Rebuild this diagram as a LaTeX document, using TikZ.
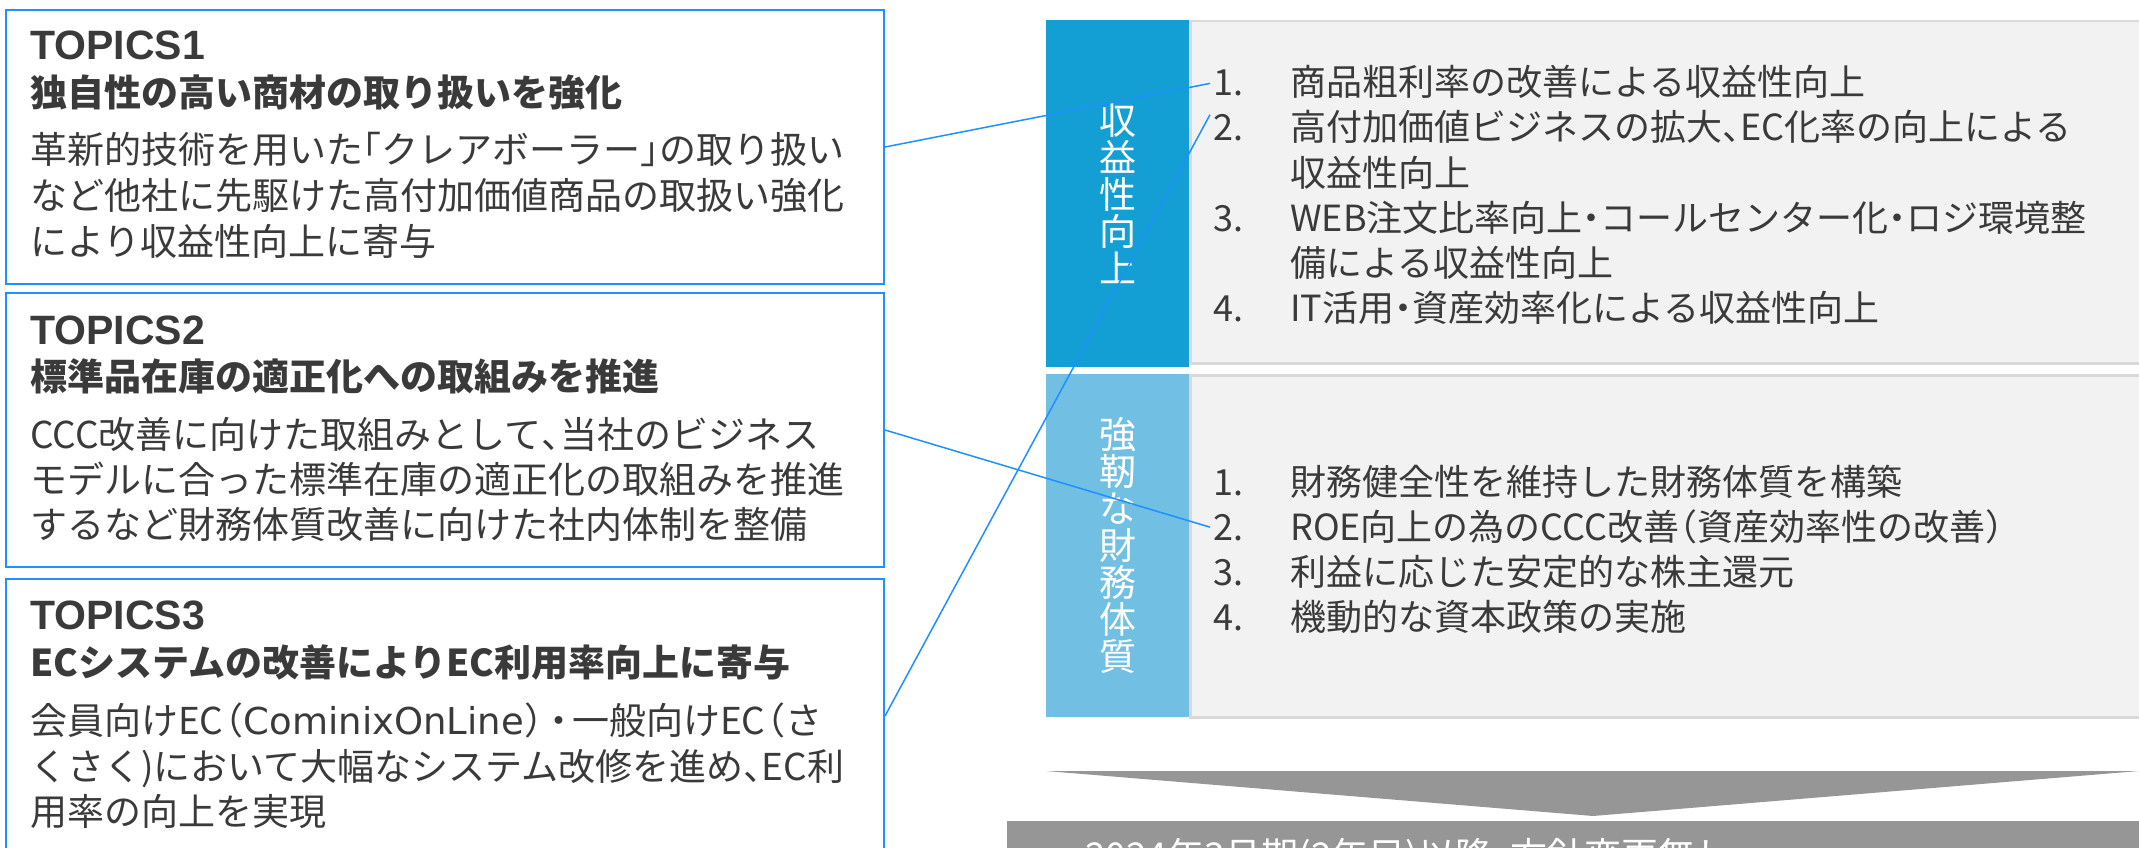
\documentclass[tikz,border=0pt]{standalone}
\usepackage{fontspec}
\setmainfont{Noto Sans CJK JP}
\newfontfamily\latf{Liberation Sans}
\newfontfamily\widef{DejaVu Sans}
\newfontfamily\symf{DejaVu Sans}
\definecolor{tblue}{HTML}{1E90FF}
\definecolor{dcol}{HTML}{139FD3}
\definecolor{lcol}{HTML}{71C0E4}
\definecolor{gfill}{HTML}{F2F2F2}
\definecolor{gline}{HTML}{D9D9D9}
\definecolor{txt}{HTML}{3A3A3A}
\definecolor{arrowg}{HTML}{969696}
\newcommand{\jlb}{\makebox[0.5em][r]{「}}
\newcommand{\jrb}{\makebox[0.5em][l]{」}}
\newcommand{\jten}{\makebox[0.5em][l]{、}}
\newcommand{\jdot}{\makebox[0.5em][c]{・}}
\newcommand{\jwdot}{\makebox[0.7em][c]{・}}
\newcommand{\jlp}{\makebox[0.5em][r]{（}}
\newcommand{\jrp}{\makebox[0.5em][l]{）}}
\newcommand{\jmlp}{\makebox[0.55em][r]{（}}
\newcommand{\jmrp}{\makebox[0.6em][l]{）}}
\tikzset{
  topbox/.style={draw=tblue, line width=2pt, fill=white, anchor=north west, inner sep=0pt, minimum width=878pt, minimum height=274pt},
  lbl/.style={anchor=base west, inner sep=0pt, text=txt, font=\latf\bfseries\fontsize{41}{41}\selectfont},
  hd/.style={anchor=base west, inner sep=0pt, text=txt, font=\bfseries\fontsize{37}{37}\selectfont},
  bd/.style={anchor=base west, inner sep=0pt, text=txt, font=\fontsize{37}{37}\selectfont},
  itm/.style={anchor=base west, inner sep=0pt, text=txt, font=\fontsize{36}{36}\selectfont},
  colbox/.style={anchor=north west, inner sep=0pt, minimum width=143pt, text=white, align=center, font=\fontsize{37}{37}\selectfont},
  gbox/.style={draw=gline, line width=2.5pt, fill=gfill, anchor=north west, inner sep=0pt, minimum width=970pt},
  conn/.style={draw=tblue, line width=1.5pt},
}
\begin{document}
\begin{tikzpicture}[x=1pt,y=-1pt]
\useasboundingbox (0,0) rectangle (2139,848);
\clip (0,0) rectangle (2139,848);
% left topic boxes
\node[topbox] (box1) at (5,9) {};
\node[topbox] (box2) at (5,292) {};
\node[topbox] (box3) at (5,578) {};
% box 1
\node[lbl] (t1) at (30,60) {TOPICS1};
\node[hd] (h1) at (30,106.5) {独自性の高い商材の取り扱いを強化};
\node[bd] (b11) at (30,164) {革新的技術を用いた\jlb クレアボーラー\jrb の取り扱い};
\node[bd] (b12) at (30,209.5) {など他社に先駆けた高付加価値商品の取扱い強化};
\node[bd] (b13) at (30,255) {により収益性向上に寄与};
% box 2
\node[lbl] (t2) at (30,344) {TOPICS2};
\node[hd] (h2) at (30,390) {標準品在庫の適正化への取組みを推進};
\node[bd] (b21) at (30,448) {CCC改善に向けた取組みとして\jten 当社のビジネス};
\node[bd] (b22) at (30,493) {モデルに合った標準在庫の適正化の取組みを推進};
\node[bd] (b23) at (30,538) {するなど財務体質改善に向けた社内体制を整備};
% box 3
\node[lbl] (t3) at (30,629) {TOPICS3};
\node[hd] (h3) at (30,676) {ECシステムの改善によりEC利用率向上に寄与};
\node[bd] (b31) at (30,734) {会員向けEC\jmlp{\widef CominixOnLine}\jmrp\jwdot 一般向けEC\jmlp さ};
\node[bd] (b32) at (30,780) {くさく)において大幅なシステム改修を進め\jten EC利};
\node[bd] (b33) at (30,825) {用率の向上を実現};
% right panel
\node[colbox, fill=dcol, minimum height=347pt] (col1) at (1046,20) {収\\益\\性\\向\\上};
\node[colbox, fill=lcol, minimum height=343pt] (col2) at (1046,374) {強\\靭\\な\\財\\務\\体\\質};
\node[gbox, minimum height=342pt] (g1) at (1189,20) {};
\node[gbox, minimum height=342pt] (g2) at (1189,374) {};
% list 1
\node[itm] (n11) at (1213,96) {1.};
\node[itm] (i11) at (1290,96) {商品粗利率の改善による収益性向上};
\node[itm] (n12) at (1213,141) {2.};
\node[itm] (i12) at (1290,141) {高付加価値ビジネスの拡大\jten EC化率の向上による};
\node[itm] (i12b) at (1290,186) {収益性向上};
\node[itm] (n13) at (1213,231) {3.};
\node[itm] (i13) at (1290,231) {WEB注文比率向上\jdot コールセンター化\jdot ロジ環境整};
\node[itm] (i13b) at (1290,276) {備による収益性向上};
\node[itm] (n14) at (1213,321) {4.};
\node[itm] (i14) at (1290,321) {IT活用\jdot 資産効率化による収益性向上};
% list 2
\node[itm] (n21) at (1213,495) {1.};
\node[itm] (i21) at (1290,495) {財務健全性を維持した財務体質を構築};
\node[itm] (n22) at (1213,540) {2.};
\node[itm] (i22) at (1290,540) {ROE向上の為のCCC改善\jlp 資産効率性の改善\jrp};
\node[itm] (n23) at (1213,585) {3.};
\node[itm] (i23) at (1290,585) {利益に応じた安定的な株主還元};
\node[itm] (n24) at (1213,630) {4.};
\node[itm] (i24) at (1290,630) {機動的な資本政策の実施};
% connectors
\draw[conn] (box1.east) -- ([xshift=-3pt]n11.west);
\draw[conn] (box3.east) -- ([xshift=-3pt]n12.north west);
\draw[conn] (box2.east) -- ([xshift=-3pt]n22.west);
% chevron
\coordinate (chl) at (1046,771);
\coordinate (chr) at (2139,771);
\coordinate (cht) at (1593,816);
\fill[arrowg] (chl) -- (chr) -- (cht) -- cycle;
% bottom bar
\node[fill=arrowg, anchor=north west, inner sep=0pt, minimum width=1140pt, minimum height=60pt] (bar) at (1007,821) {};
\node[anchor=base west, inner sep=0pt, text=white, font=\symf\fontsize{26}{26}\selectfont] (barb) at (1026,866) {▷};
\node[bd, text=white] (bart) at (1085,869) {2024年3月期(2年目)以降\jten 方針変更無し};
\end{tikzpicture}
\end{document}
